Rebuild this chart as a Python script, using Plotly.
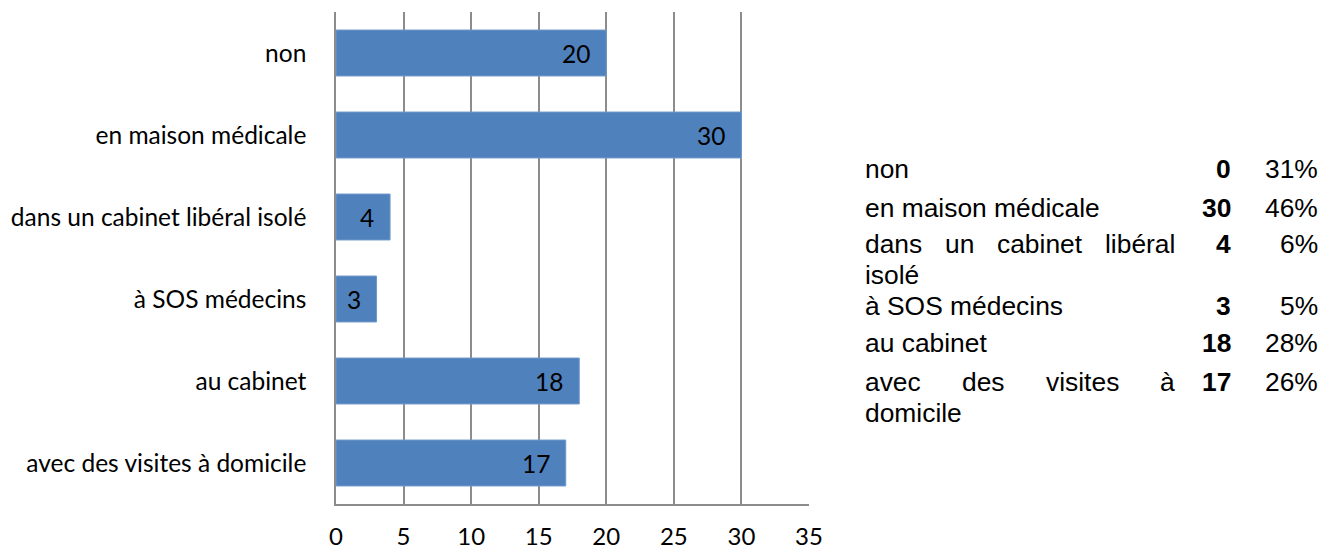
import plotly.graph_objects as go

# ---------------- data ----------------
categories = ["non", "en maison médicale", "dans un cabinet libéral isolé",
              "à SOS médecins", "au cabinet", "avec des visites à domicile"]
values = [20, 30, 4, 3, 18, 17]

table_labels = ["non", "en maison médicale", "dans un cabinet libéral isolé",
                "à SOS médecins", "au cabinet", "avec des visites à domicile"]
table_counts = ["0", "30", "4", "3", "18", "17"]
table_pcts = ["31%", "46%", "6%", "5%", "28%", "26%"]

x_ticks = [0, 5, 10, 15, 20, 25, 30, 35]

# ---------------- layout constants ----------------
W, H = 1340, 550
ML, MR, MT, MB = 336, 531, 12, 46
PW, PH = W - ML - MR, H - MT - MB
BAR_COLOR = "#4F81BD"
GRID = "#8C8C8C"
CHART_FONT = "Lato"
CHART_SIZE = 24.5
TABLE_FONT = "Liberation Sans, Arial"
TSIZE = 26.4
COL_LEFT, COL_RIGHT = 863, 1173
WRAP_W = 300
NUM_RIGHT, PCT_RIGHT = 1233, 1320
ROW_BASELINES = [178, 217, 253, 315, 352, 391]
LINE_H = 31

# Arial / Liberation Sans advance widths (per 1000 em)
AW = {' ': 278, 'a': 556, 'b': 556, 'c': 500, 'd': 556, 'e': 556, 'é': 556,
      'i': 222, 'l': 222, 'm': 833, 'n': 556, 'o': 556, 'r': 333, 's': 500,
      't': 278, 'u': 556, 'v': 500, 'à': 556, 'S': 667, 'O': 778, 'p': 556}


def tw(s):
    return sum(AW.get(ch, 556) for ch in s) / 1000 * TSIZE


def px_x(px):
    return (px - ML) / PW


def px_y(py):
    return (H - MB - py) / PH


fig = go.Figure()
fig.add_trace(go.Bar(
    x=values, y=categories, orientation="h", width=0.56,
    marker=dict(color=BAR_COLOR, line=dict(color="#6f98c9", width=1)),
    hoverinfo="skip",
))

annotations = []
# data labels inside bars
for c, v in zip(categories, values):
    annotations.append(dict(
        x=v, y=c, xref="x", yref="y", text=str(v), showarrow=False,
        xanchor="right", yanchor="middle", xshift=-14,
        font=dict(family=CHART_FONT, size=CHART_SIZE, color="black")))

# table on the right
for lab, cnt, pct, base in zip(table_labels, table_counts, table_pcts, ROW_BASELINES):
    words = lab.split(" ")
    lines, cur = [], []
    for w_ in words:
        trial = " ".join(cur + [w_])
        if cur and tw(trial) > WRAP_W:
            lines.append(cur)
            cur = [w_]
        else:
            cur.append(w_)
    lines.append(cur)
    for li, lw in enumerate(lines):
        yb = base + li * LINE_H
        yc = px_y(yb - 9)
        last = li == len(lines) - 1
        if last or len(lw) == 1:
            annotations.append(dict(
                x=px_x(COL_LEFT), y=yc, xref="paper", yref="paper",
                text=" ".join(lw), showarrow=False, xanchor="left", yanchor="middle",
                font=dict(family=TABLE_FONT, size=TSIZE, color="black")))
        else:
            widths = [tw(w_) for w_ in lw]
            gap = (COL_RIGHT - COL_LEFT - sum(widths)) / (len(lw) - 1)
            xpos = COL_LEFT
            for w_, wd in zip(lw, widths):
                annotations.append(dict(
                    x=px_x(xpos), y=yc, xref="paper", yref="paper",
                    text=w_, showarrow=False, xanchor="left", yanchor="middle",
                    font=dict(family=TABLE_FONT, size=TSIZE, color="black")))
                xpos += wd + gap
    yc = px_y(base - 9)
    annotations.append(dict(
        x=px_x(NUM_RIGHT), y=yc, xref="paper", yref="paper",
        text="<b>" + cnt + "</b>", showarrow=False, xanchor="right", yanchor="middle",
        font=dict(family=TABLE_FONT, size=TSIZE, color="black")))
    annotations.append(dict(
        x=px_x(PCT_RIGHT), y=yc, xref="paper", yref="paper",
        text=pct, showarrow=False, xanchor="right", yanchor="middle",
        font=dict(family=TABLE_FONT, size=TSIZE, color="black")))

fig.update_layout(
    width=W, height=H,
    margin=dict(l=ML, r=MR, t=MT, b=MB, pad=0, autoexpand=False),
    paper_bgcolor="white", plot_bgcolor="white",
    showlegend=False,
    annotations=annotations,
    xaxis=dict(
        range=[0, 35], tickvals=x_ticks, ticktext=[str(t) for t in x_ticks],
        showgrid=True, gridcolor=GRID, gridwidth=1.5,
        zeroline=False, showline=True, linecolor=GRID, linewidth=1.5,
        ticks="", ticklabelstandoff=10, automargin=False,
        tickfont=dict(family=CHART_FONT, size=24, color="black"),
    ),
    yaxis=dict(
        type="category", categoryorder="array", categoryarray=categories,
        range=[5.5, -0.5], showgrid=False, zeroline=False,
        showline=True, linecolor=GRID, linewidth=1.5,
        ticks="", ticklabelstandoff=23, automargin=False,
        tickfont=dict(family=CHART_FONT, size=CHART_SIZE, color="black"),
    ),
)

fig.write_html("out.html", post_script="document.body.style.margin='0';",
               config={"displayModeBar": False})
